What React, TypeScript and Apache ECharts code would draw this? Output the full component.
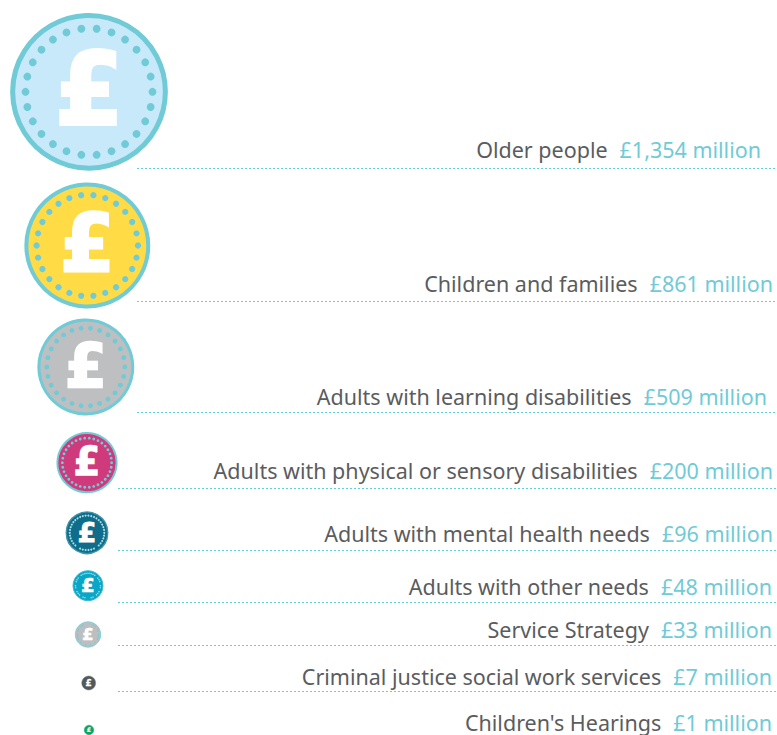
import React, { useEffect, useRef } from "react";
import * as echarts from "echarts";

// Data
const categories = [
  "Older people",
  "Children and families",
  "Adults with learning disabilities",
  "Adults with physical or sensory disabilities",
  "Adults with mental health needs",
  "Adults with other needs",
  "Service Strategy",
  "Criminal justice social work services",
  "Children's Hearings",
];
const spendMillions = [1354, 861, 509, 200, 96, 48, 33, 7, 1];

// Layout (pixel-valued hidden axes)
const coinCentreX = [89, 87.3, 85.8, 87, 87, 88, 88, 88.7, 89];
const coinCentreY = [91.8, 245.5, 367, 462.7, 532.8, 585.7, 634.5, 683, 730];
const ruleY = [168.5, 301.5, 412.5, 488.5, 550.5, 602.5, 645.5, 691.5, 740.5];
const ruleStartX = [137, 137, 137, 118, 118, 118, 118, 118, 118];
const labelRightX = [761, 773, 767, 773, 773, 772, 772, 772, 772];
const labelY = [149, 283, 396, 470, 533, 586, 629, 676, 722];

// Styles
const fillColors = ["#c8e9fa", "#ffdc45", "#bebfc1", "#cf3a7c", "#0f6d8b", "#0aa6c6", "#bcbec0", "#54585a", "#0ea564"];
const ringColors = ["#70cbd6", "#70cbd6", "#70cbd6", "#70cbd6", "#3f93a8", "#3fb9d0", "#70cbd6", "#6f8a90", "#0ea564"];
const dotColors = ["#70cbd6", "#70cbd6", "#70cbd6", "#70cbd6", "#a9dfe6", "#a9dfe6", "#70cbd6", "#54585a", "#0ea564"];
const dotCounts = [26, 26, 26, 34, 38, 38, 38, 0, 0];

// Coin diameter: area follows the amount, with a small floor for the tiniest coins.
const coinDiameter = (amount: number) => Math.sqrt(4.28 * 4.28 * amount + 81);
const money = (amount: number) => `£${amount.toLocaleString("en-GB")} million`;

const TEXT_FONT = '"Noto Sans", sans-serif';
const TEXT_SIZE = 21.5;

const renderItem = (_params: any, api: any) => {
  const i = api.value(0) as number;
  const amount = api.value(1) as number;
  const [cx, cy] = api.coord([coinCentreX[i], coinCentreY[i]]);
  const d = coinDiameter(amount);
  const R = d / 2;
  const ringW = Math.max(0.5, d * 0.032);
  const children: any[] = [];

  const [x0, yRule] = api.coord([ruleStartX[i], ruleY[i]]);
  const [x1] = api.coord([777, 0]);
  children.push({
    type: "line",
    shape: { x1: x0, y1: yRule, x2: x1, y2: yRule },
    style: { stroke: "#62d0da", lineWidth: 1, lineDash: [2, 2] },
  });

  children.push({
    type: "circle",
    shape: { cx, cy, r: R - ringW / 2 },
    style: { fill: fillColors[i], stroke: ringColors[i], lineWidth: ringW },
  });

  const n = dotCounts[i];
  for (let k = 0; k < n; k++) {
    const a = (2 * Math.PI * k) / n;
    children.push({
      type: "circle",
      shape: {
        cx: cx + Math.cos(a) * R * 0.805,
        cy: cy + Math.sin(a) * R * 0.805,
        r: n === 26 ? R * 0.05 : R * 0.046,
      },
      style: { fill: dotColors[i] },
    });
  }

  children.push({
    type: "text",
    x: cx,
    y: cy - d * 0.015,
    scaleX: 0.98,
    style: {
      x: 0,
      y: 0,
      text: "£",
      align: "center",
      verticalAlign: "middle",
      fill: "#ffffff",
      stroke: "#ffffff",
      lineWidth: d * 0.024,
      font: `bold ${d * 0.63}px "DejaVu Sans", sans-serif`,
    },
  });

  const [lx, ly] = api.coord([labelRightX[i], labelY[i]]);
  children.push({
    type: "text",
    style: {
      x: lx,
      y: ly,
      text: `{n|${categories[i]}}{g| }{v|${money(amount)}}`,
      align: "right",
      verticalAlign: "middle",
      rich: {
        n: { fontFamily: TEXT_FONT, fontSize: TEXT_SIZE, fill: "#5a5c5e", color: "#5a5c5e" },
        g: { fontFamily: TEXT_FONT, fontSize: TEXT_SIZE, width: 12 },
        v: { fontFamily: TEXT_FONT, fontSize: TEXT_SIZE, fill: "#70cbd6", color: "#70cbd6" },
      },
    },
  });

  return { type: "group", children };
};

export default function App() {
  const ref = useRef<HTMLDivElement>(null);
  useEffect(() => {
    document.body.style.margin = "0";
    const chart = echarts.init(ref.current!, undefined, { renderer: "svg" });
    chart.setOption({
      animation: false,
      grid: { left: 0, right: 0, top: 0, bottom: 0 },
      xAxis: { type: "value", min: 0, max: 777, show: false },
      yAxis: { type: "value", min: 0, max: 735, inverse: true, show: false },
      series: [
        {
          type: "custom",
          coordinateSystem: "cartesian2d",
          clip: false,
          renderItem,
          data: spendMillions.map((v, i) => [i, v]),
        },
      ],
    });
    return () => chart.dispose();
  }, []);
  return <div ref={ref} style={{ width: 777, height: 735, background: "#fff" }} />;
}
